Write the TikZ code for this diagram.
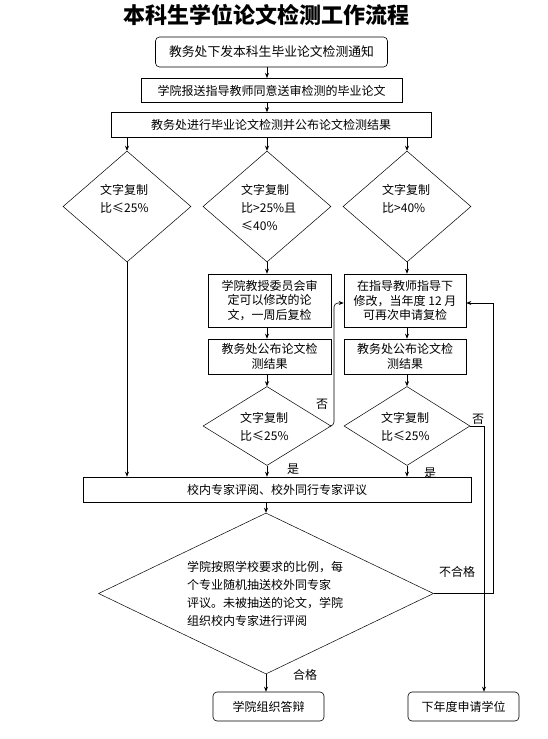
\documentclass[tikz,border=0pt]{standalone}
\usepackage{fontspec}
\setmainfont{Noto Sans CJK SC}
\usetikzlibrary{shapes.geometric,arrows.meta}
\begin{document}
\begin{tikzpicture}[x=1pt,y=-1pt,
  every node/.style={inner sep=0pt},
  box/.style={draw,line width=0.6pt,align=center,font=\fontsize{12pt}{14.5pt}\selectfont},
  rbox/.style={box,rounded corners=4pt},
  dia/.style={draw,line width=0.5pt,diamond,aspect=1},
  txt/.style={align=left,anchor=west,font=\fontsize{12pt}{18pt}\selectfont},
  arr/.style={draw,line width=0.6pt,-{Stealth[length=5pt,width=4pt]}},
  lbl/.style={font=\fontsize{12pt}{12pt}\selectfont}]
\useasboundingbox[fill=white] (0,0) rectangle (547,739);
% title
\node (title) at (266,15) {\fontsize{22pt}{22pt}\selectfont\bfseries 本科生学位论文检测工作流程};
% top boxes
\node[rbox,minimum width=232pt,minimum height=30pt,font=\fontsize{12.8pt}{14pt}\selectfont] (b1) at (271.5,52) {教务处下发本科生毕业论文检测通知};
\node[box,minimum width=261pt,minimum height=24.5pt] (b2) at (271.5,90.5) {学院报送指导教师同意送审检测的毕业论文};
\node[box,minimum width=320pt,minimum height=25pt] (b3) at (271,125) {教务处进行毕业论文检测并公布论文检测结果};
% first diamonds
\node[dia,minimum width=128pt,minimum height=111pt] (d1) at (127,206.5) {};
\node[dia,minimum width=128pt,minimum height=111pt] (d2) at (267,206.5) {};
\node[dia,minimum width=128pt,minimum height=111pt] (d3) at (407,206.5) {};
\node[txt] (t1) at (100,199) {文字复制\\比≤25\%};
\node[txt] (t2) at (241,208) {文字复制\\比>25\%且\\≤40\%};
\node[txt] (t3) at (382,199) {文字复制\\比>40\%};
% middle boxes
\node[box,minimum width=123pt,minimum height=53pt] (b4) at (269.5,300.5) {学院教授委员会审\\定可以修改的论\\文，一周后复检};
\node[box,minimum width=122pt,minimum height=53pt] (b5) at (405,300.5) {在指导教师指导下\\修改，当年度 12 月\\可再次申请复检};
\node[box,minimum width=123pt,minimum height=35pt] (b6) at (269.5,356.5) {教务处公布论文检\\测结果};
\node[box,minimum width=122pt,minimum height=35pt] (b7) at (405,356.5) {教务处公布论文检\\测结果};
% second diamonds
\node[dia,minimum width=128pt,minimum height=79pt] (d4) at (267,426) {};
\node[dia,minimum width=126pt,minimum height=79pt] (d5) at (407,426) {};
\node[txt] (t4) at (240,427) {文字复制\\比≤25\%};
\node[txt] (t5) at (381,427) {文字复制\\比≤25\%};
% review box
\node[box,minimum width=388pt,minimum height=25pt] (b8) at (277,489.5) {校内专家评阅、校外同行专家评议};
% big diamond
\node[dia,minimum width=335pt,minimum height=161pt] (d6) at (266,593.5) {};
\node[txt] (t6) at (187,593.5) {学院按照学校要求的比例，每\\个专业随机抽送校外同专家\\评议。未被抽送的论文，学院\\组织校内专家进行评阅};
% final boxes
\node[rbox,minimum width=111pt,minimum height=29pt] (b9) at (268.5,706.5) {学院组织答辩};
\node[rbox,minimum width=111pt,minimum height=29pt] (b10) at (463.5,706.5) {下年度申请学位};
% labels
\node[lbl] (l1) at (322,404) {否};
\node[lbl] (l2) at (478,419) {否};
\node[lbl] (l3) at (293,469) {是};
\node[lbl] (l4) at (430,473) {是};
\node[lbl] (l5) at (305,675) {合格};
\node[lbl] (l6) at (457,572) {不合格};
% connectors
\draw[arr] (b1.south -| d2.north) -- (b2.north -| d2.north);
\draw[arr] (b2.south -| d2.north) -- (b3.north -| d2.north);
\draw[arr] (b3.south -| d1.north) -- (d1.north);
\draw[arr] (b3.south -| d2.north) -- (d2.north);
\draw[arr] (b3.south -| d3.north) -- (d3.north);
\draw[arr] (d1.south) -- (d1.south |- b8.north);
\draw[arr] (d2.south) -- (d2.south |- b4.north);
\draw[arr] (d3.south) -- (d3.south |- b5.north);
\draw[arr] (b4.south -| d4.north) -- (b6.north -| d4.north);
\draw[arr] (b6.south -| d4.north) -- (d4.north);
\draw[arr] (d4.south) -- (d4.south |- b8.north);
\draw[arr] (b5.south -| d5.north) -- (b7.north -| d5.north);
\draw[arr] (b7.south -| d5.north) -- (d5.north);
\draw[arr] (d5.south) -- (d5.south |- b8.north);
\coordinate (k1) at (334,303);
\draw[arr,rounded corners=4pt] (d4.east) -| (k1) -- (k1 -| b5.west);
\coordinate (k2) at (484,426);
\draw[arr] (d5.east) -- (k2) -- (k2 |- b10.north);
\coordinate (k3) at (493,303);
\draw[arr] (d6.east) -| (k3) -- (k3 -| b5.east);
\draw[arr] (d6.north |- b8.south) -- (d6.north);
\draw[arr] (d6.south) -- (d6.south |- b9.north);
\end{tikzpicture}
\end{document}
